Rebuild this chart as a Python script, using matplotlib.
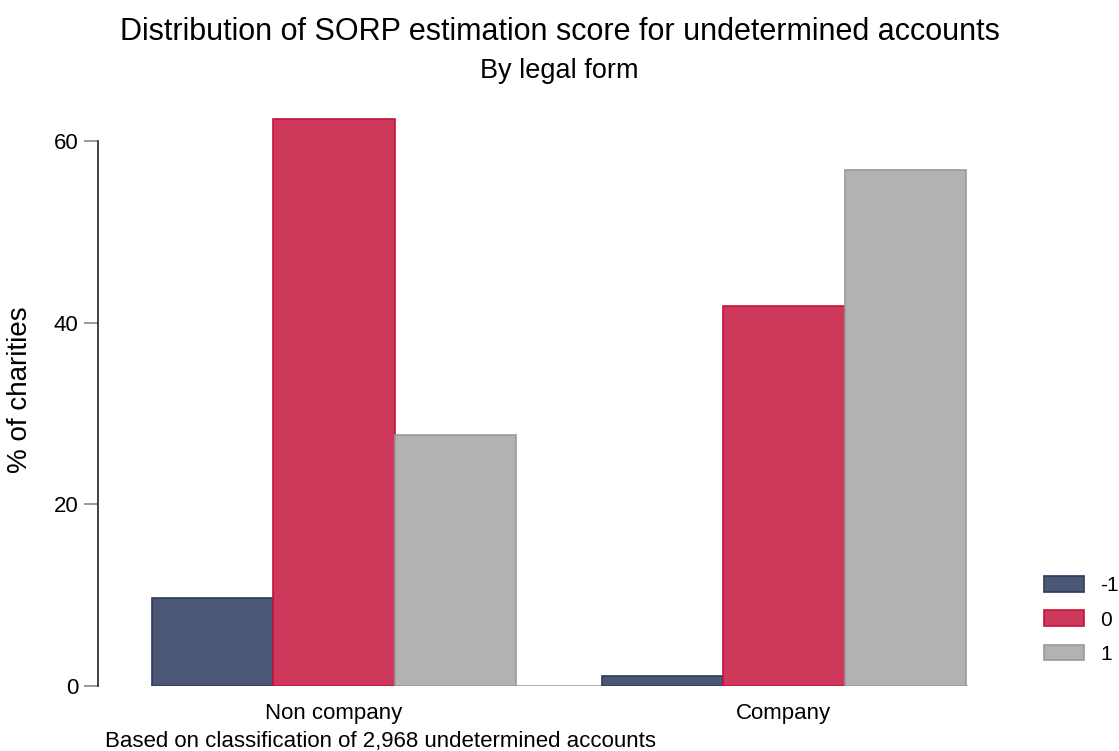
import numpy as np
import matplotlib
matplotlib.use("Agg")
import matplotlib.pyplot as plt

plt.rcParams['font.family'] = ['Liberation Sans', 'DejaVu Sans']

groups = ["Non company", "Company"]
scores = ["-1", "0", "1"]
pct_minus1 = [9.7, 1.1]
pct_zero = [62.5, 41.9]
pct_one = [27.6, 56.8]

colors = ["#4b5775", "#cd385b", "#b2b2b2"]
edges = ["#2c3b62", "#c8103f", "#9a9a9a"]

fig = plt.figure(figsize=(11.19, 7.51), dpi=100)
ax = fig.add_axes([98 / 1119, 65 / 751, 922 / 1119, 581 / 751])

x = np.arange(len(groups))
w = 0.27
series = [pct_minus1, pct_zero, pct_one]

# baseline like Stata draws it
ax.plot([x[0] - 1.5 * w, x[-1] + 1.5 * w], [0, 0], color="#aaaaaa", lw=2, zorder=1)

for i, vals in enumerate(series):
    ax.bar(x + (i - 1) * w, vals, width=w, color=colors[i], edgecolor=edges[i],
           linewidth=1.2, label=scores[i], zorder=2)

ax.set_xlim(-0.525, 1.525)
ax.set_ylim(0, 64)
ax.set_yticks([0, 20, 40, 60])
ax.set_xticks(x)
ax.set_xticklabels(groups)
ax.tick_params(axis="y", labelsize=16, length=10, color="#888888", width=1.2, pad=4)
ax.tick_params(axis="x", labelsize=16, length=0, pad=12)

for s in ["top", "right", "bottom"]:
    ax.spines[s].set_visible(False)
ax.spines["left"].set_bounds(0, 60)
ax.spines["left"].set_color("#222222")
ax.spines["left"].set_linewidth(1.2)

ax.set_ylabel("% of charities", fontsize=20)
ax.yaxis.set_label_coords(-0.071, 0.51)

fig.text(0.5, 0.957, "Distribution of SORP estimation score for undetermined accounts",
         ha="center", va="center", fontsize=22)
fig.text(0.5, 0.906, "By legal form", ha="center", va="center", fontsize=19.5)
fig.text(105 / 1119, 1 - 741 / 751, "Based on classification of 2,968 undetermined accounts",
         ha="left", va="center", fontsize=16)

ax.legend(loc="center left", bbox_to_anchor=(1025 / 1119, 1 - 620 / 751),
          bbox_transform=fig.transFigure, frameon=False, fontsize=15,
          handlelength=1.92, handleheight=0.77, labelspacing=0.72, handletextpad=0.8)

fig.savefig("out.png", dpi=100)
